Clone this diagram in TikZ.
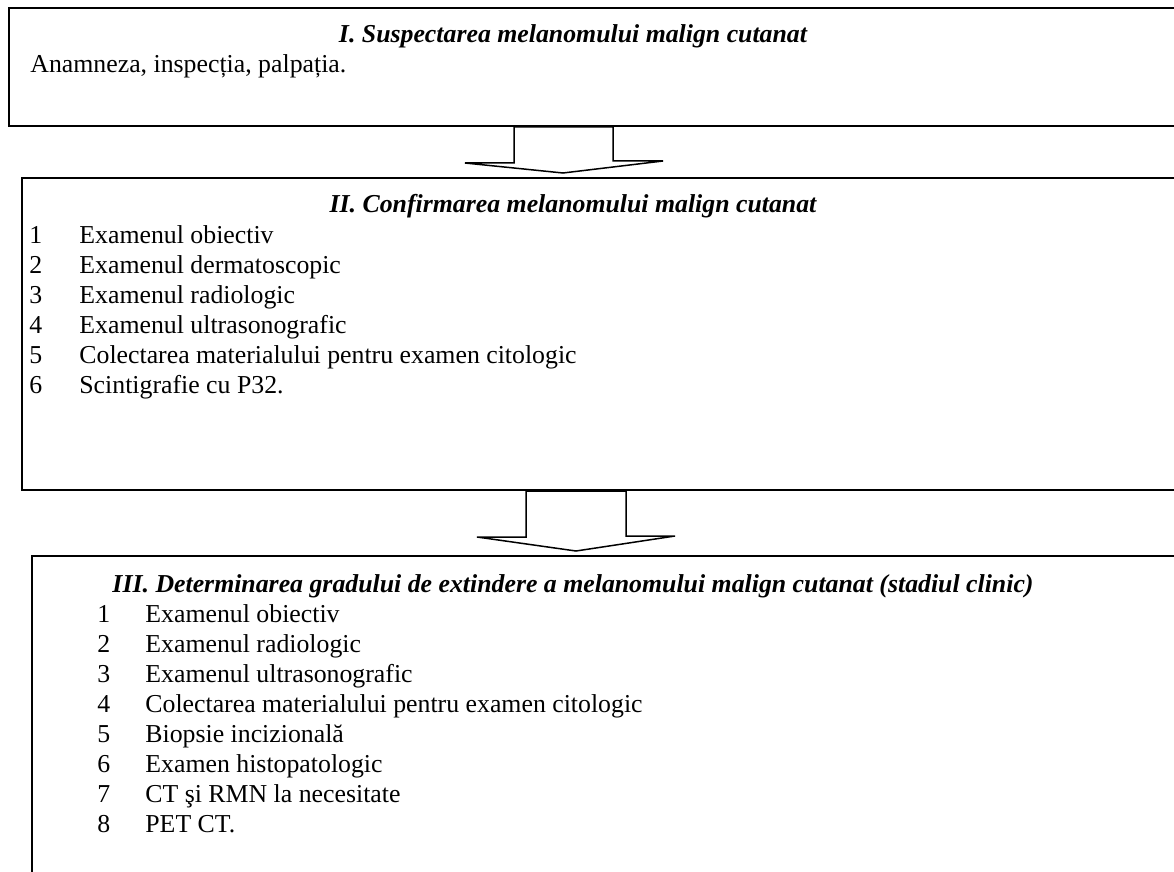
\documentclass[tikz,border=0pt]{standalone}
\usepackage{fontspec}
\setmainfont{Liberation Serif}
\usetikzlibrary{positioning,calc}
\newcommand\stagefont{\fontsize{12.9}{15}\selectfont}
\tikzset{stage/.style={draw, line width=1pt, rectangle, anchor=north west, inner sep=0pt}}
\tikzset{stagetitle/.style={anchor=base, inner sep=0pt, font=\stagefont\bfseries\itshape}}
\tikzset{item/.style={anchor=base west, inner sep=0pt, font=\stagefont}}
\tikzset{blockarrow/.style={draw, fill=white, line width=0.75pt, line join=miter}}
\newcommand\stepgap{30}

\begin{document}
\begin{tikzpicture}[x=0.5pt, y=-0.5pt]
	\useasboundingbox (0,0) rectangle (1174,872);

	% the three stages, cut off at the right edge
	\node[stage, minimum width=596pt, minimum height=59pt] (boxI) at (8,7) {};
	\node[stage, minimum width=590pt, minimum height=156pt] (boxII) at (21,177) {};
	\node[stage, minimum width=585pt, minimum height=173pt] (boxIII) at (31,555) {};

	% stage I
	\node[stagetitle] (titleI) at (573,43) {I. Suspectarea melanomului malign cutanat};
	\node[item] (textI) at (30,73) {Anamneza, inspecția, palpația.};

	% stage II
	\node[stagetitle] (titleII) at (573,213) {II. Confirmarea melanomului malign cutanat};
	\foreach \n/\txt [count=\i] in {1/Examenul obiectiv, 2/Examenul dermatoscopic, 3/Examenul radiologic,
	    4/Examenul ultrasonografic, 5/Colectarea materialului pentru examen citologic, 6/Scintigrafie cu P32.} {
	    \node[item] (numII\i) at (29,{213+\stepgap*\i}) {\n};
	    \node[item] (itemII\i) at (79,{213+\stepgap*\i}) {\txt};
	}

	% stage III
	\node[stagetitle] (titleIII) at (573,592) {III. Determinarea gradului de extindere a melanomului malign cutanat (stadiul clinic)};
	\foreach \n/\txt [count=\i] in {1/Examenul obiectiv, 2/Examenul radiologic, 3/Examenul ultrasonografic,
	    4/Colectarea materialului pentru examen citologic, 5/Biopsie incizională, 6/Examen histopatologic,
	    7/CT şi RMN la necesitate, 8/PET CT.} {
	    \node[item] (numIII\i) at (97,{592+\stepgap*\i}) {\n};
	    \node[item] (itemIII\i) at (145,{592+\stepgap*\i}) {\txt};
	}

	% block arrows between the stages
	\coordinate (topA) at (boxI.south west -| 563,0);
	\coordinate (tipA) at ($(boxII.north west -| 563,0)+(0,-4)$);
	\draw[blockarrow] ($(topA)+(-49,0)$) -- ++(0,36) -- ++(-49,0) -- (tipA)
	    -- ($(tipA)+(100,-12)$) -- ++(-50,0) -- ($(topA)+(50,0)$) -- cycle;

	\coordinate (topB) at (boxII.south west -| 576,0);
	\coordinate (tipB) at ($(boxIII.north west -| 576,0)+(0,-4)$);
	\draw[blockarrow] ($(topB)+(-50,0)$) -- ++(0,46) -- ++(-49,0) -- (tipB)
	    -- ($(tipB)+(99,-15)$) -- ++(-49,0) -- ($(topB)+(50,0)$) -- cycle;
\end{tikzpicture}
\end{document}
